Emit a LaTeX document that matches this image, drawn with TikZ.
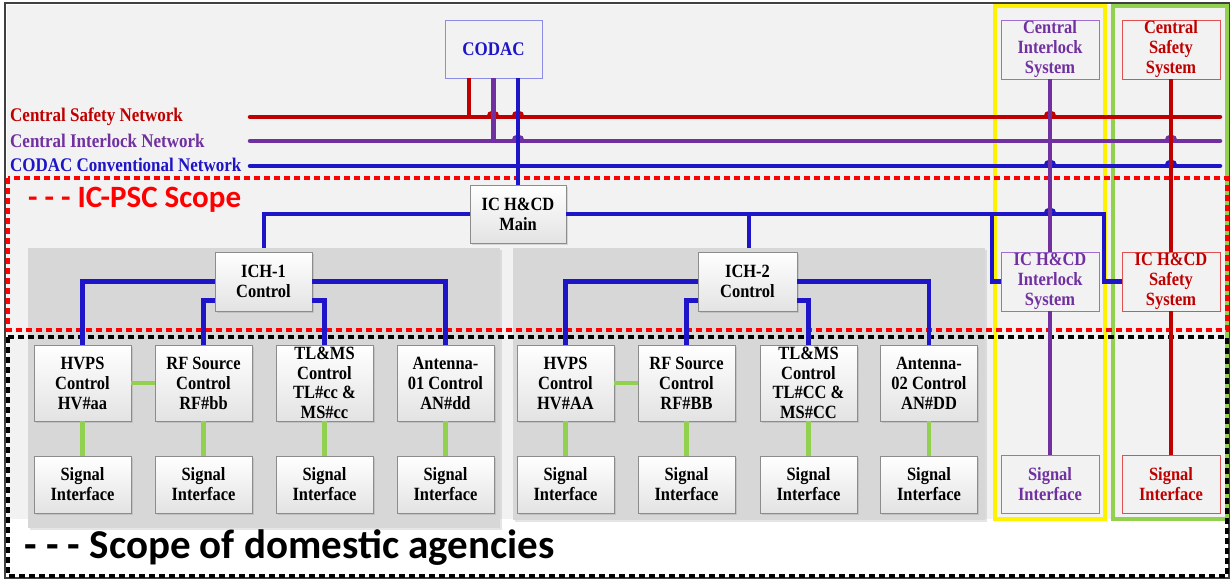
\documentclass[tikz,border=0pt]{standalone}
\usepackage{fontspec}
\setmainfont{Liberation Serif}[FakeStretch=0.88]
\newfontfamily\scopefont{Carlito}
\usetikzlibrary{positioning, calc, shadows}

\definecolor{netred}{RGB}{192,0,0}
\definecolor{netpurple}{RGB}{112,48,160}
\definecolor{netblue}{RGB}{30,20,200}
\definecolor{linkgreen}{RGB}{146,208,80}
\definecolor{pagegray}{RGB}{242,242,242}
\definecolor{groupgray}{RGB}{215,215,215}
\definecolor{codacborder}{RGB}{140,140,230}
\definecolor{ilborder}{RGB}{160,110,210}
\definecolor{sfborder}{RGB}{225,80,80}

\begin{document}
\begin{tikzpicture}[
    x=1pt, y=-1pt,
    every node/.style={align=center, inner sep=0pt,
      font=\bfseries\fontsize{18.7}{20}\selectfont},
    unit/.style={draw=black!45, top color=white, bottom color=black!11,
      minimum width=97pt,
      drop shadow={shadow xshift=1.5pt, shadow yshift=-1.5pt, opacity=.25}},
    control/.style={unit, minimum height=76pt},
    signal/.style={unit, minimum height=57pt},
    system/.style={draw, fill=pagegray, minimum width=98pt, minimum height=59pt},
    group/.style={fill=groupgray,
      drop shadow={shadow xshift=2pt, shadow yshift=-2pt, opacity=.2}},
    net label/.style={anchor=west, font=\bfseries\fontsize{19.3}{20}\selectfont},
    safety link/.style={netred, line width=4.5pt},
    interlock link/.style={netpurple, line width=4.5pt},
    codac link/.style={netblue, line width=4.5pt},
    field link/.style={linkgreen, line width=4.5pt},
    scope line/.style={line width=3.2pt, dash pattern=on 6pt off 4pt}
    ]
    \useasboundingbox (0,0) rectangle (1231,581);
    % background
    \fill[white] (0,0) rectangle (1231,581);
    \fill[pagegray] (7,5) rectangle (1227,519);
    \draw[black!75, line width=1.5pt] (5,3) rectangle (1229,578);
    % ICH groups
    \node[group, minimum width=472pt, minimum height=280pt] (grp1) at (264,388) {};
    \node[group, minimum width=472pt, minimum height=272pt] (grp2) at (749,384) {};
    % interlock and safety columns
    \draw[yellow, line width=4pt] (995,6) rectangle (1105,519);
    \draw[linkgreen, line width=4pt] (1113,6) rectangle (1227,519);
    % scopes
    \draw[scope line, red] (8,178) rectangle (1227,330);
    \draw[scope line, black] (8,337) rectangle (1227,576);
    \node[anchor=west, text=red, font=\scopefont\bfseries\fontsize{31}{32}\selectfont]
      (pscscope) at (28,200) {- - - IC-PSC Scope};
    \node[anchor=west, font=\scopefont\bfseries\fontsize{41}{42}\selectfont]
      (dascope) at (24,548) {- - - Scope of domestic agencies};

    % nodes
    % CODAC and main
    \node[system, draw=codacborder, text=netblue, minimum width=97pt, minimum height=58pt,
      font=\bfseries\fontsize{19.3}{20}\selectfont] (codac) at (493.5,49) {CODAC};
    \node[unit, minimum width=96pt, minimum height=58pt] (main) at (518,214) {IC H\&CD\\Main};
    % ICH-1
    \node[unit, minimum height=59pt] (ich1) at (263.5,281.5) {ICH-1\\Control};
    \node[control] (hv1) at (82.5,383) {HVPS\\Control\\HV\#aa};
    \node[control] (rf1) at (203.5,383) {RF Source\\Control\\RF\#bb};
    \node[control, font=\bfseries\fontsize{18.7}{19.5}\selectfont] (tl1) at (324.5,383)
      {TL\&MS\\Control\\TL\#cc \&\\MS\#cc};
    \node[control] (an1) at (445.5,383) {Antenna-\\01 Control\\AN\#dd};
    % ICH-2
    \node[unit, minimum width=99pt, minimum height=59pt] (ich2) at (747.5,281.5) {ICH-2\\Control};
    \node[control] (hv2) at (565.5,383) {HVPS\\Control\\HV\#AA};
    \node[control] (rf2) at (686.5,383) {RF Source\\Control\\RF\#BB};
    \node[control, font=\bfseries\fontsize{18.7}{19.5}\selectfont] (tl2) at (808.5,383)
      {TL\&MS\\Control\\TL\#CC \&\\MS\#CC};
    \node[control] (an2) at (929,383) {Antenna-\\02 Control\\AN\#DD};
    % signal interfaces
    \coordinate (sigrow) at (0,484.5);
    \foreach \c in {hv1,rf1,tl1,an1,hv2,rf2,tl2,an2} {
      \node[signal] (sig-\c) at (\c |- sigrow) {Signal\\Interface};
      \draw[field link] (\c.south) -- (sig-\c.north);
    }
    \draw[field link] (hv1.east) -- (rf1.west);
    \draw[field link] (hv2.east) -- (rf2.west);
    % interlock column
    \node[system, draw=ilborder, text=netpurple] (cis) at (1050,49.5) {Central\\Interlock\\System};
    \node[system, draw=ilborder, text=netpurple] (icil) at (1050,281.5) {IC H\&CD\\Interlock\\System};
    \node[system, draw=ilborder, text=netpurple, minimum height=58pt] (sigil) at (1050,484.5) {Signal\\Interface};
    % safety column
    \node[system, draw=sfborder, text=netred] (css) at (1171,49.5) {Central\\Safety\\System};
    \node[system, draw=sfborder, text=netred] (icsf) at (1171,281.5) {IC H\&CD\\Safety\\System};
    \node[system, draw=sfborder, text=netred, minimum height=58pt] (sigsf) at (1171,484.5) {Signal\\Interface};

    % networks
    \node[net label, text=netred] (csnlab) at (10,117) {Central Safety Network};
    \node[net label, text=netpurple] (cinlab) at (10,141) {Central Interlock Network};
    \node[net label, text=netblue] (ccnlab) at (10,165) {CODAC Conventional Network};
    \coordinate (csnW) at (250,117); \coordinate (csnE) at (1220,117);
    \coordinate (cinW) at (250,141); \coordinate (cinE) at (1220,141);
    \coordinate (ccnW) at (250,166); \coordinate (ccnE) at (1220,166);
    \draw[safety link, line cap=round] (csnW) -- (csnE);
    \draw[interlock link, line cap=round] (cinW) -- (cinE);
    \draw[codac link, line cap=round] (ccnW) -- (ccnE);

    % H&CD links
    \draw[codac link] (main.west) -| (grp1.north);
    \draw[codac link] (main.east) -| (grp2.north);
    \draw[codac link] (main.east) -| ([xshift=-18pt]icsf.west) -- (icsf.west);
    \draw[codac link] (icil.west) -- ([xshift=-9pt]icil.west) |- (main.east);
    \draw[codac link] (ich1.west) -| (hv1.north);
    \draw[codac link] (ich1.east) -| (an1.north);
    \draw[codac link] ([yshift=-19pt]ich1.west) -| (rf1.north);
    \draw[codac link] ([yshift=-19pt]ich1.east) -| (tl1.north);
    \draw[codac link] (ich2.west) -| (hv2.north);
    \draw[codac link] (ich2.east) -| (an2.north);
    \draw[codac link] ([yshift=-19pt]ich2.west) -| (rf2.north);
    \draw[codac link] ([yshift=-19pt]ich2.east) -| (tl2.north);

    % hops
    \foreach \x/\y/\c in {493/117/netred, 518/117/netred, 518/141/netpurple,
      1050/117/netred, 1050/166/netblue, 1050/214/netblue,
      1171/141/netpurple, 1171/166/netblue}
      \draw[\c, line width=3pt] (\x-5,\y) arc (180:360:5);

    % drops
    \coordinate (codac safety) at ([xshift=-24.5pt]codac.south);
    \draw[safety link] (codac safety) -- (codac safety |- csnW);
    \draw[interlock link] (codac.south) -- (codac.south |- cinW);
    \draw[codac link] (codac.south -| main.north) -- (main.north);
    \draw[interlock link] (cis.south) -- (icil.north);
    \draw[interlock link] (icil.south) -- (sigil.north);
    \draw[safety link] (css.south) -- (icsf.north);
    \draw[safety link] (icsf.south) -- (sigsf.north);
  \end{tikzpicture}
\end{document}
